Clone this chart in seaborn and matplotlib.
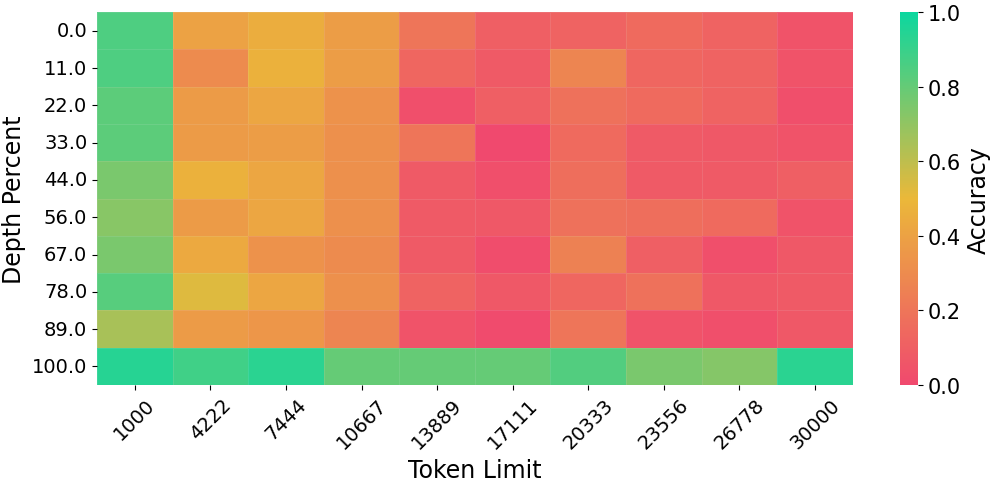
import matplotlib
matplotlib.use("Agg")
import matplotlib.pyplot as plt
import numpy as np
import pandas as pd
import seaborn as sns
from matplotlib.colors import LinearSegmentedColormap

token_limits = [1000, 4222, 7444, 10667, 13889, 17111, 20333, 23556, 26778, 30000]
depth_percents = [0.0, 11.0, 22.0, 33.0, 44.0, 56.0, 67.0, 78.0, 89.0, 100.0]

# accuracy per depth row, columns follow token_limits
acc_d0 = [0.85, 0.40, 0.45, 0.38, 0.20, 0.10, 0.12, 0.15, 0.12, 0.05]
acc_d11 = [0.85, 0.30, 0.47, 0.38, 0.13, 0.08, 0.27, 0.13, 0.12, 0.05]
acc_d22 = [0.82, 0.37, 0.42, 0.33, 0.03, 0.10, 0.18, 0.15, 0.12, 0.03]
acc_d33 = [0.82, 0.37, 0.38, 0.32, 0.20, 0.00, 0.15, 0.08, 0.07, 0.05]
acc_d44 = [0.75, 0.47, 0.42, 0.32, 0.08, 0.03, 0.17, 0.08, 0.08, 0.10]
acc_d56 = [0.72, 0.37, 0.42, 0.32, 0.08, 0.07, 0.18, 0.17, 0.15, 0.05]
acc_d67 = [0.75, 0.43, 0.33, 0.30, 0.08, 0.02, 0.25, 0.10, 0.03, 0.07]
acc_d78 = [0.83, 0.53, 0.42, 0.32, 0.12, 0.07, 0.13, 0.18, 0.07, 0.08]
acc_d89 = [0.65, 0.37, 0.35, 0.27, 0.05, 0.01, 0.20, 0.05, 0.03, 0.07]
acc_d100 = [0.94, 0.88, 0.93, 0.80, 0.80, 0.80, 0.84, 0.75, 0.73, 0.93]

grid = pd.DataFrame(
    [acc_d0, acc_d11, acc_d22, acc_d33, acc_d44, acc_d56, acc_d67, acc_d78, acc_d89, acc_d100],
    index=depth_percents,
    columns=token_limits,
)

cmap = LinearSegmentedColormap.from_list("needle", ["#F0496E", "#EBB839", "#0CD79F"])

fig = plt.figure(figsize=(9.97, 4.85), dpi=100)
ax = fig.add_axes([0.0973, 0.204, 0.758, 0.769])
cax = fig.add_axes([0.903, 0.204, 0.018, 0.769])
sns.heatmap(
    grid,
    ax=ax,
    cbar_ax=cax,
    cmap=cmap,
    vmin=0,
    vmax=1,
    linewidths=0.5,
    linecolor=(0.9, 0.9, 0.9, 0.12),
    cbar_kws={"label": "Accuracy"},
)
ax.set_xlabel("Token Limit", fontsize=17)
ax.set_ylabel("Depth Percent", fontsize=17)
ax.tick_params(axis="x", labelsize=14, rotation=45)
ax.tick_params(axis="y", labelsize=14, rotation=0)
for lbl in ax.get_xticklabels():
    lbl.set_ha("center")

cax.tick_params(labelsize=15)
cax.yaxis.label.set_size(17)
ax.collections[0].colorbar.outline.set_visible(False)

fig.savefig("out.png", dpi=100)
